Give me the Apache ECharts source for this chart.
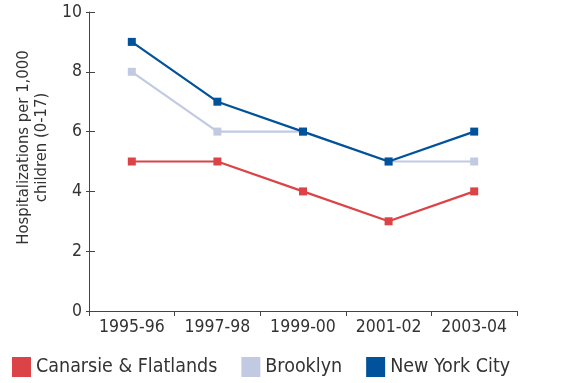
<!DOCTYPE html>
<html><head><meta charset="utf-8">
<script src="https://cdn.jsdelivr.net/npm/echarts@6/dist/echarts.min.js"></script>
<style>html,body{margin:0;padding:0;background:#fff}#c{width:572px;height:383px}</style>
</head><body><div id="c"></div>
<script>
const categories = ['1995-96','1997-98','1999-00','2001-02','2003-04'];
const canarsie = [5, 5, 4, 3, 4];
const brooklyn = [8, 6, 6, 5, 5];
const nyc = [9, 7, 6, 5, 6];
const yTicks = {min: 0, max: 10, interval: 2};
const FONT = '"DejaVu Sans Condensed", "DejaVu Sans", sans-serif';
const chart = echarts.init(document.getElementById('c'));
function s(name, data, color, z) {
  return {name, type: 'line', data, symbol: 'rect', symbolSize: 8, z, yAxisIndex: 0,
    lineStyle: {color, width: 2.2}, itemStyle: {color}, emphasis: {disabled: true}, animation: false};
}
chart.setOption({
  animation: false,
  textStyle: {fontFamily: FONT},
  grid: {left: 89, right: 55, top: 12, bottom: 72},
  legend: {left: 12, top: 357, padding: 0, itemWidth: 19, itemHeight: 20, itemGap: 24, icon: 'rect',
    textStyle: {fontFamily: FONT, fontSize: 19.5, color: '#333'},
    data: ['Canarsie & Flatlands', 'Brooklyn', 'New York City']},
  xAxis: {type: 'category', data: categories, boundaryGap: true,
    axisLine: {lineStyle: {color: '#444', width: 1}},
    axisTick: {show: true, length: 5, lineStyle: {color: '#444'}},
    axisLabel: {fontFamily: FONT, fontSize: 17.5, color: '#333', margin: 7, interval: 0}},
  yAxis: [{type: 'value', min: yTicks.min, max: yTicks.max, interval: yTicks.interval,
    name: 'Hospitalizations per 1,000\nchildren (0-17)', nameLocation: 'middle', nameRotate: 90, nameGap: 36,
    nameTextStyle: {fontFamily: FONT, fontSize: 16.5, color: '#333', lineHeight: 18, padding: [0, 0, 0, 28]},
    splitLine: {show: false},
    axisLine: {show: true, lineStyle: {color: '#444', width: 1}},
    axisTick: {show: true, inside: true, length: 6, lineStyle: {color: '#444'}},
    axisLabel: {fontFamily: FONT, fontSize: 17.5, color: '#333', margin: 7}},
   {type: 'value', position: 'left', min: yTicks.min, max: yTicks.max, interval: yTicks.interval,
    splitLine: {show: false}, axisLine: {show: false}, axisLabel: {show: false},
    axisTick: {show: true, length: 3, lineStyle: {color: '#444'}}}],
  series: [
    s('Canarsie & Flatlands', canarsie, '#DC4346', 3),
    s('Brooklyn', brooklyn, '#C2CAE3', 2),
    s('New York City', nyc, '#00529B', 4)
  ]
});
</script></body></html>
